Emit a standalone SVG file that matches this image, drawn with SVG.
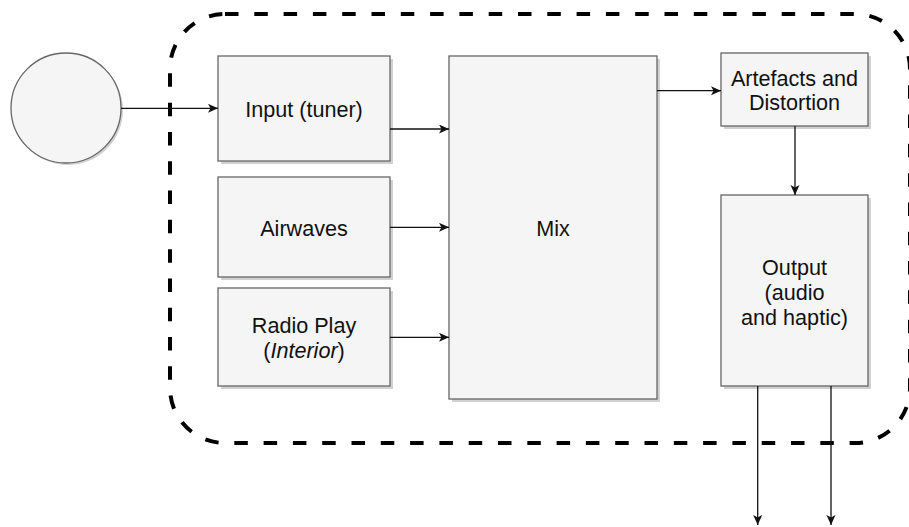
<svg xmlns="http://www.w3.org/2000/svg" width="909" height="527" viewBox="0 0 909 527">
<style>
.box{fill:#f5f5f5;stroke:#666666;stroke-width:1.3}
.sh{fill:#000000;opacity:0.18}
.lbl{font-family:"Liberation Sans",Arial,Helvetica,sans-serif;font-size:21.6px;fill:#111111;text-anchor:middle}
.conn{stroke:#111111;stroke-width:1.3;fill:none;marker-end:url(#arr)}
</style>
<defs>
<marker id="arr" markerUnits="userSpaceOnUse" markerWidth="11" markerHeight="10" refX="10" refY="4.5" orient="auto">
<path d="M0,0 L10,4.5 L0,9 L2.5,4.5 Z" fill="#111111"/>
</marker>
</defs>
<rect width="909" height="527" fill="#ffffff"/>
<g id="boundary">
<rect x="170" y="14" width="740" height="429" rx="55" ry="55" fill="none" stroke="#000000" stroke-width="4" stroke-dasharray="13.5 15.8"/>
</g>
<g id="source">
<circle cx="68" cy="110" r="55" class="sh"/>
<circle cx="66" cy="108" r="55" class="box"/>
</g>
<g id="input">
<rect x="221" y="59" width="172" height="105" class="sh"/>
<rect x="218" y="56" width="172" height="105" class="box"/>
<text x="304" y="117" class="lbl">Input (tuner)</text>
</g>
<g id="airwaves">
<rect x="221" y="180" width="172" height="100" class="sh"/>
<rect x="218" y="177" width="172" height="100" class="box"/>
<text x="304" y="236" class="lbl">Airwaves</text>
</g>
<g id="radioplay">
<rect x="221" y="291" width="172" height="98" class="sh"/>
<rect x="218" y="288" width="172" height="98" class="box"/>
<text x="304" y="333" class="lbl">Radio Play</text>
<text x="304" y="358" class="lbl">(<tspan font-style="italic">Interior</tspan>)</text>
</g>
<g id="mix">
<rect x="452" y="59" width="208" height="343" class="sh"/>
<rect x="449" y="56" width="208" height="343" class="box"/>
<text x="553" y="236" class="lbl">Mix</text>
</g>
<g id="artefacts">
<rect x="724" y="56" width="147" height="73" class="sh"/>
<rect x="721" y="53" width="147" height="73" class="box"/>
<text x="794.5" y="86" class="lbl">Artefacts and</text>
<text x="794.5" y="110" class="lbl">Distortion</text>
</g>
<g id="output">
<rect x="724" y="198" width="147" height="191" class="sh"/>
<rect x="721" y="195" width="147" height="191" class="box"/>
<text x="794.5" y="275" class="lbl">Output</text>
<text x="794.5" y="300" class="lbl">(audio</text>
<text x="794.5" y="325" class="lbl">and haptic)</text>
</g>
<g id="connectors">
<line x1="121" y1="108.3" x2="218" y2="108.3" class="conn"/>
<line x1="390" y1="129" x2="449" y2="129" class="conn"/>
<line x1="390" y1="227.3" x2="449" y2="227.3" class="conn"/>
<line x1="390" y1="337.3" x2="449" y2="337.3" class="conn"/>
<line x1="657" y1="90.7" x2="721" y2="90.7" class="conn"/>
<line x1="795" y1="126" x2="795" y2="195" class="conn"/>
<line x1="757.7" y1="386" x2="757.7" y2="525" class="conn"/>
<line x1="831" y1="386" x2="831" y2="525" class="conn"/>
</g>
</svg>
